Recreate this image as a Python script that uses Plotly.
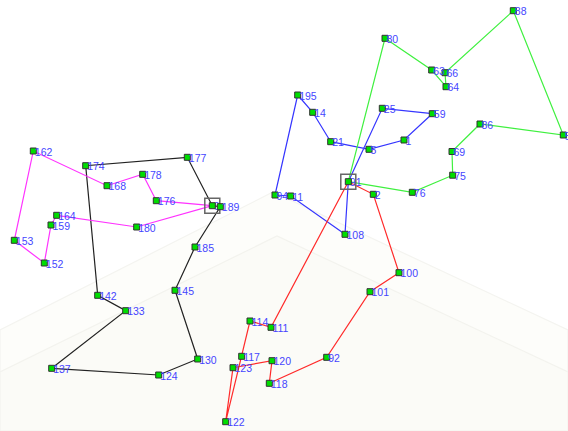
import plotly.graph_objects as go

# Node labels and coordinates (x right, y down)
node_ids = ["D1", "189", "177", "174", "142", "133", "137", "124", "130", "145", "185",
            "176", "178", "168", "162", "153", "152", "159", "164", "180",
            "D2", "125", "59", "1", "5", "21", "14", "195", "94", "11", "108",
            "80", "63", "64", "66", "88", "85", "86", "69", "75", "76",
            "2", "100", "101", "92", "118", "120", "123", "122", "117", "114", "111"]
node_labels = ["0", "189", "177", "174", "142", "133", "137", "124", "130", "145", "185",
               "176", "178", "168", "162", "153", "152", "159", "164", "180",
               "91", "25", "59", "1", "5", "21", "14", "195", "94", "11", "108",
               "80", "63", "64", "66", "88", "5", "86", "69", "75", "76",
               "2", "100", "101", "92", "118", "120", "123", "122", "117", "114", "111"]
node_x = [212.3, 220.3, 187.3, 85.7, 97.7, 125.7, 51.7, 158.7, 197.7, 175.0, 195.0,
          156.3, 142.7, 107.0, 33.3, 14.3, 44.3, 51.0, 56.7, 136.7,
          348.3, 382.3, 432.3, 404.0, 369.0, 330.7, 312.7, 297.7, 275.0, 290.7, 345.0,
          385.0, 431.7, 446.0, 445.0, 513.3, 563.3, 480.0, 452.0, 452.7, 412.3,
          373.3, 399.0, 370.0, 326.7, 269.3, 272.0, 233.0, 225.7, 241.7, 250.0, 271.0]
node_y = [205.7, 206.7, 157.3, 165.7, 295.3, 310.7, 368.3, 375.0, 359.0, 290.3, 247.0,
          200.7, 174.3, 185.7, 151.0, 240.3, 263.0, 225.0, 215.3, 227.0,
          181.7, 108.3, 113.7, 140.0, 149.3, 141.7, 112.3, 95.0, 195.0, 196.0, 234.3,
          38.3, 70.0, 86.7, 72.7, 10.7, 135.0, 124.0, 151.5, 175.2, 192.3,
          194.3, 272.7, 291.7, 357.3, 383.3, 360.7, 367.7, 421.7, 356.3, 321.0, 327.3]

depots = ["D1", "D2"]

route_black = ["D1", "177", "174", "142", "133", "137", "124", "130", "145", "185", "189", "D1"]
route_pink = ["D1", "176", "178", "168", "162", "153", "152", "159", "164", "180", "D1"]
route_blue = ["D2", "125", "59", "1", "5", "21", "14", "195", "94", "11", "108", "D2"]
route_green = ["D2", "80", "63", "64", "66", "88", "85", "86", "69", "75", "76", "D2"]
route_red = ["D2", "2", "100", "101", "92", "118", "120", "123", "122", "117", "114", "111", "D2"]

routes = [(route_black, "#222222"), (route_pink, "#ff33ff"), (route_blue, "#3535ff"),
          (route_green, "#3ff03f"), (route_red, "#ff2a2a")]

pos = {n: (x, y) for n, x, y in zip(node_ids, node_x, node_y)}
lab = dict(zip(node_ids, node_labels))
customers = [n for n in node_ids if n not in depots]

LABEL_DX = 1.5   # label starts just right of the node centre
LABEL_DY = 2.0   # and sits slightly below it
label_font = dict(family="Liberation Sans, Arial", size=10.5, color="#4545ff")

fig = go.Figure()

# faint watermark-like background
fig.add_shape(type="path",
              path="M 0 330 L 273 192 L 568 330 L 568 431 L 0 431 Z",
              fillcolor="#fdfdfa", line=dict(color="#f4f4f0", width=1.2), layer="below")
fig.add_shape(type="path",
              path="M 0 372 L 277 236 L 568 372 L 568 431 L 0 431 Z",
              fillcolor="#fbfbf7", line=dict(color="#f3f3ee", width=1.2), layer="below")

for r, c in routes:
    fig.add_trace(go.Scatter(x=[pos[n][0] for n in r], y=[pos[n][1] for n in r],
                             mode="lines", line=dict(color=c, width=1.2),
                             hoverinfo="skip", showlegend=False))

# depot labels (under the node markers)
fig.add_trace(go.Scatter(x=[pos[n][0] + LABEL_DX for n in depots],
                         y=[pos[n][1] + LABEL_DY for n in depots], mode="text",
                         text=[lab[n] for n in depots], textposition="middle right",
                         textfont=label_font, hoverinfo="skip", showlegend=False))

fig.add_trace(go.Scatter(x=[pos[n][0] for n in depots], y=[pos[n][1] for n in depots],
                         mode="markers",
                         marker=dict(symbol="square-open", size=15,
                                     color="#666666", line=dict(width=1.5, color="#666666")),
                         hoverinfo="skip", showlegend=False))

fig.add_trace(go.Scatter(x=node_x, y=node_y, mode="markers",
                         marker=dict(symbol="square", size=6, color="#00dd00",
                                     line=dict(width=1, color="#333333")),
                         cliponaxis=True, hoverinfo="skip", showlegend=False))

# customer labels (on top)
fig.add_trace(go.Scatter(x=[pos[n][0] + LABEL_DX for n in customers],
                         y=[pos[n][1] + LABEL_DY for n in customers], mode="text",
                         text=[lab[n] for n in customers], textposition="middle right",
                         textfont=label_font, cliponaxis=True,
                         hoverinfo="skip", showlegend=False))

fig.update_xaxes(range=[0, 568], visible=False, fixedrange=True)
fig.update_yaxes(range=[431, 0], visible=False, fixedrange=True)
fig.update_layout(width=568, height=431, margin=dict(l=0, r=0, t=0, b=0),
                  paper_bgcolor="white", plot_bgcolor="white")

fig.write_html("out.html", config={"displayModeBar": False},
               post_script="document.body.style.margin='0';document.body.style.overflow='hidden';")
